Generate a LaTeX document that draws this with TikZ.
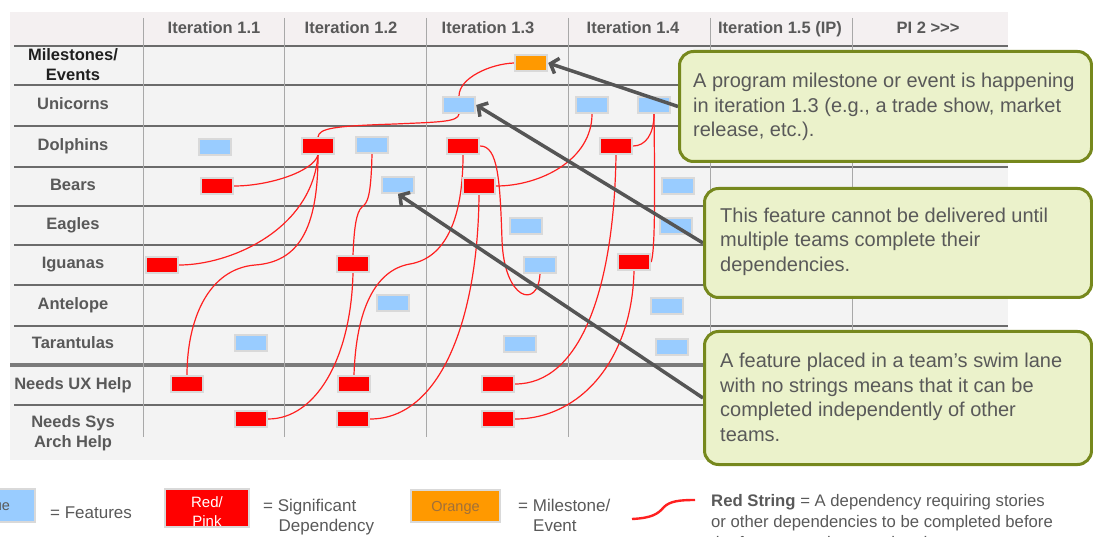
\documentclass[tikz,border=0pt]{standalone}
\usepackage{fontspec}
\setmainfont{Liberation Sans}
\usetikzlibrary{arrows.meta}
\definecolor{panel}{HTML}{F3F3F3}
\definecolor{panelhead}{HTML}{F4F0F1}
\definecolor{gridh}{HTML}{6B6B6B}
\definecolor{gridv}{HTML}{A8A8A8}
\definecolor{txtgrey}{HTML}{595959}
\definecolor{featblue}{HTML}{99CCFF}
\definecolor{depred}{HTML}{FF0000}
\definecolor{msorange}{HTML}{FF9900}
\definecolor{boxedge}{HTML}{D9D9D9}
\definecolor{callfill}{HTML}{EBF2CB}
\definecolor{calledge}{HTML}{76881D}
\definecolor{arrowgrey}{HTML}{555555}
\definecolor{strred}{HTML}{FF2020}
\definecolor{orangetxt}{HTML}{A0703A}
\pgfdeclarelayer{back}
\pgfdeclarelayer{strings}
\pgfdeclarelayer{pointers}
\pgfdeclarelayer{front}
\pgfsetlayers{back,strings,main,pointers,front}
\begin{document}
\begin{tikzpicture}[x=1pt,y=-1pt,
  hdr/.style={font=\bfseries\fontsize{16.5}{19}\selectfont, text=txtgrey, anchor=base, inner sep=0pt},
  lbl/.style={hdr},
  cardbox/.style={draw=boxedge, line width=2.4pt, minimum width=32pt, minimum height=15.5pt, inner sep=0pt},
  feat/.style={cardbox, fill=featblue},
  dep/.style={cardbox, fill=depred},
  mile/.style={cardbox, fill=msorange},
  depstring/.style={draw=strred, line width=1.2pt},
  callbox/.style={draw=calledge, fill=callfill, line width=3pt, rounded corners=14pt, inner sep=0pt, anchor=north west},
  calltext/.style={font=\fontsize{20}{24.5}\selectfont, text=txtgrey, align=left, anchor=west, inner sep=0pt},
  callptr/.style={draw=arrowgrey, line width=3.5pt, -{Straight Barb[length=7pt,width=16pt]}},
  legtext/.style={font=\fontsize{17}{20}\selectfont, text=txtgrey, anchor=base west, inner sep=0pt},
  boxtext/.style={font=\fontsize{14.5}{18}\selectfont, anchor=base, inner sep=0pt},
]
\useasboundingbox (0,0) rectangle (1093,537);

% ---------- board background and grid ----------
\begin{pgfonlayer}{back}
\fill[panel] (10,12) rectangle (1008,460);
\fill[panelhead] (10,12) rectangle (1008,46);
\foreach \yy in {46,85,126,167,206,245,285,326,405}
  \draw[gridh, line width=1.3pt] (14,\yy) -- (1008,\yy);
\draw[gridh!90, line width=3.5pt] (10,365) -- (1008,365);
\foreach \xx in {143,284,426,568,710,852}
  \draw[gridv, line width=1pt] (\xx,18) -- (\xx,437);
\end{pgfonlayer}

% ---------- header ----------
\node[hdr] (h1) at (214,34) {Iteration 1.1};
\node[hdr] (h2) at (351,34) {Iteration 1.2};
\node[hdr] (h3) at (488,34) {Iteration 1.3};
\node[hdr] (h4) at (633,34) {Iteration 1.4};
\node[hdr] (h5) at (780,34) {Iteration 1.5 (IP)};
\node[hdr] (h6) at (928,34) {PI 2 {>}{>}{>}};

% ---------- row labels ----------
\node[lbl, text=black!88] (lms1) at (73,61) {Milestones/};
\node[lbl, text=black!88] (lms2) at (73,81) {Events};
\node[lbl] (luni) at (73,110) {Unicorns};
\node[lbl] (ldol) at (73,151) {Dolphins};
\node[lbl] (lbea) at (73,191) {Bears};
\node[lbl] (leag) at (73,230) {Eagles};
\node[lbl] (ligu) at (73,269) {Iguanas};
\node[lbl] (lant) at (73,310) {Antelope};
\node[lbl] (ltar) at (73,349) {Tarantulas};
\node[lbl] (lux) at (73,389) {Needs UX Help};
\node[lbl] (lsys1) at (73,428) {Needs Sys};
\node[lbl] (lsys2) at (73,447) {Arch Help};

% ---------- cards ----------
\node[mile] (ms) at (531,63) {};
\node[feat] (u1) at (459,105) {};
\node[feat] (u2) at (592,105) {};
\node[feat] (u3) at (654,105) {};
\node[feat] (d1) at (215,147) {};
\node[dep]  (d2) at (318,146) {};
\node[feat] (d3) at (372,145) {};
\node[dep]  (d4) at (463,146) {};
\node[dep]  (d5) at (616,146) {};
\node[dep]  (b1) at (217,186) {};
\node[feat] (b2) at (398,185) {};
\node[dep]  (b3) at (479,186) {};
\node[feat] (b4) at (678,186) {};
\node[feat] (e1) at (526,226) {};
\node[feat] (e2) at (676,226) {};
\node[dep]  (i1) at (162,265) {};
\node[dep]  (i2) at (353,264) {};
\node[feat] (i3) at (540,265) {};
\node[dep]  (i4) at (634,262) {};
\node[feat] (a1) at (393,303) {};
\node[feat] (a2) at (667,306) {};
\node[feat] (t1) at (251,343) {};
\node[feat] (t2) at (520,344) {};
\node[feat] (t3) at (672,347) {};
\node[dep]  (x1) at (187,384) {};
\node[dep]  (x2) at (354,384) {};
\node[dep]  (x3) at (498,384) {};
\node[dep]  (s1) at (251,419) {};
\node[dep]  (s2) at (353,419) {};
\node[dep]  (s3) at (498,419) {};

% ---------- red strings ----------
\begin{pgfonlayer}{strings}
\draw[depstring] (ms.west) .. controls (490,64) and (459,78) .. (u1.north);
\draw[depstring] (u1.south) .. controls (458,122) and (440,122) .. (395,124) .. controls (335,126) and (319,128) .. (d2.north);
\draw[depstring] (d2.south) .. controls (313,172) and (268,186) .. (b1.east);
\draw[depstring] (d2.south) .. controls (312,230) and (230,265) .. (i1.east);
\draw[depstring] (d2.south) .. controls (318,230) and (298,262) .. (255,265) .. controls (208,269) and (187,320) .. (x1.north);
\draw[depstring] (d3.south) .. controls (371,195) and (368,203) .. (362,207) .. controls (356,212) and (354,230) .. (i2.north);
\draw[depstring] (i2.south) .. controls (351,360) and (315,419) .. (s1.east);
\draw[depstring] (d4.south) .. controls (463,220) and (445,258) .. (410,264) .. controls (375,270) and (356,310) .. (x2.north);
\draw[depstring] (d4.east) .. controls (498,146) and (500,180) .. (502,240) .. controls (504,300) and (538,310) .. (i3.south);
\draw[depstring] (b3.south) .. controls (478,320) and (440,419) .. (s2.east);
\draw[depstring] (u2.south) .. controls (592,160) and (540,186) .. (b3.east);
\draw[depstring] (u3.south) .. controls (654,135) and (645,146) .. (d5.east);
\draw[depstring] (u3.south) .. controls (655,200) and (655,250) .. (i4.east);
\draw[depstring] (d5.south) .. controls (614,290) and (580,384) .. (x3.east);
\draw[depstring] (i4.south) .. controls (632,360) and (580,419) .. (s3.east);
\end{pgfonlayer}

% ---------- callouts ----------
\begin{pgfonlayer}{front}
\node[callbox, minimum width=412pt, minimum height=110pt] (c1) at (678,50) {};
\node[callbox, minimum width=387pt, minimum height=109pt] (c2) at (703,187) {};
\node[callbox, minimum width=387pt, minimum height=133pt] (c3) at (703,330) {};
\node[calltext] (c1t) at (693,107) {A program milestone or event is happening\\in iteration 1.3 (e.g., a trade show, market\\release, etc.).};
\node[calltext] (c2t) at (720,241.5) {This feature cannot be delivered until\\multiple teams complete their\\dependencies.};
\node[calltext] (c3t) at (720,397.5) {A feature placed in a team’s swim lane\\with no strings means that it can be\\completed independently of other\\teams.};
\end{pgfonlayer}

\begin{pgfonlayer}{pointers}
\draw[callptr] (c1.west) -- (ms.east);
\draw[callptr] (c2.west) -- (u1.east);
\draw[callptr] (c3.west) -- (b2.south);
\end{pgfonlayer}

% ---------- legend ----------
\node[cardbox, fill=featblue, minimum width=80pt, minimum height=33pt] (lgb) at (-5,505.5) {};
\node[boxtext, text=txtgrey] (lgbt) at (-4.5,510.5) {Blue};
\node[legtext] (lgbx) at (50,518) {= Features};

\node[fill=depred, minimum width=84pt, minimum height=37.5pt, inner sep=0pt] (lgr) at (207,508) {};
\node[font=\fontsize{15}{19}\selectfont, text=white, anchor=base, inner sep=0pt] (lgrt1) at (207,507.5) {Red/};
\node[font=\fontsize{15}{19}\selectfont, text=white, anchor=base, inner sep=0pt] (lgrt2) at (207,526.5) {Pink};
\draw[boxedge, line width=2.4pt] (lgr.north west) rectangle (lgr.south east);
\node[legtext] (lgrx1) at (263,511) {= Significant};
\node[legtext] (lgrx2) at (278.5,531) {Dependency};

\node[cardbox, fill=msorange, minimum width=88.5pt, minimum height=31.5pt] (lgo) at (455.5,506) {};
\node[boxtext, text=orangetxt] (lgot) at (455.5,511.5) {Orange};
\node[legtext] (lgox1) at (518,511) {= Milestone/};
\node[legtext] (lgox2) at (533,531) {Event};

\coordinate (lgs1) at (632,519);
\coordinate (lgs2) at (695,500);
\draw[strred, line width=2.4pt] (lgs1) .. controls (652,518) and (658,514) .. (664,507) .. controls (670,501) and (680,500) .. (lgs2);
\node[legtext, font=\fontsize{16.7}{21}\selectfont] (lgst1) at (711,506) {\textbf{Red String} = A dependency requiring stories};
\node[legtext, font=\fontsize{16.7}{21}\selectfont] (lgst2) at (711,527) {or other dependencies to be completed before};
\node[legtext, font=\fontsize{16.7}{21}\selectfont] (lgst3) at (711,548) {the feature can be completed.};
\end{tikzpicture}
\end{document}
